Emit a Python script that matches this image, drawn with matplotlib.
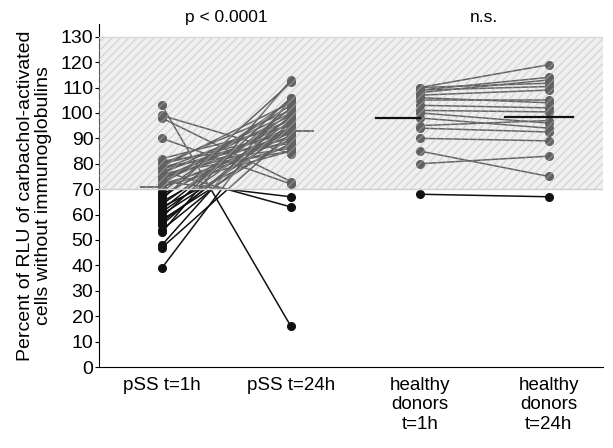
#!/usr/bin/env python3
"""Paired RLU values, pSS patients vs healthy donors, t=1h and t=24h."""
import matplotlib
matplotlib.use("Agg")
import matplotlib.pyplot as plt
from matplotlib.patches import Rectangle

plt.rcParams["font.family"] = ["Liberation Sans", "DejaVu Sans"]

# x categories
groups = ["pSS t=1h", "pSS t=24h", "healthy\ndonors\nt=1h", "healthy\ndonors\nt=24h"]
titles = ["p < 0.0001", "n.s."]

# pSS patients, paired values (t=1h, t=24h)
pss_1h = [103, 99, 98, 90, 77, 73, 39,
          82, 81, 80, 80, 79, 79, 78, 78, 77, 76, 76, 75, 75, 74, 74, 73, 72, 72,
          71, 71, 69, 68, 67, 66, 65, 64, 63, 62, 61, 60, 59, 58, 57, 56, 54, 53,
          48, 47]
pss_24h = [16, 84, 73, 72, 63, 67, 106,
           95, 88, 101, 92, 86, 104, 90, 97, 93, 85, 100, 94, 89, 99, 92, 96, 87, 103,
           91, 85, 105, 93, 98, 112, 94, 100, 88, 102, 97, 93, 106, 90, 96, 99, 95, 113,
           105, 92]

# healthy donors, paired values (t=1h, t=24h)
hd_1h = [110, 110, 109, 109, 108, 107, 106, 105, 103, 101, 100, 98, 95, 94, 90, 85, 80, 68]
hd_24h = [119, 111.7, 114, 110.4, 113, 109, 104, 105, 102, 100.4, 96, 94, 97, 92.5, 89, 75, 83, 67]

# group means
means = [70.7, 92.9, 98.1, 98.4]

# normal range (shaded band)
band = [70, 130]

fig = plt.figure(figsize=(6.13, 4.48), dpi=100)
ax = fig.add_axes([0.1615, 0.1808, 0.822, 0.7656])
ax.set_xlim(0.512, 4.419)
ax.set_ylim(0, 135)

for a, b in zip(pss_1h, pss_24h):
    ax.plot([1, 2], [a, b], color="#111111", lw=1.1, marker="o", ms=5.5, zorder=2)
for a, b in zip(hd_1h, hd_24h):
    ax.plot([3, 4], [a, b], color="#111111", lw=1.1, marker="o", ms=5.5, zorder=2)

# pSS mean markers (sit under the band)
ax.plot([0.84, 1.02], [means[0]] * 2, color="#111111", lw=1.3, zorder=2)
ax.plot([2.0, 2.17], [means[1]] * 2, color="#111111", lw=1.3, zorder=2)

# shaded, hatched band drawn over the data
x0, x1 = ax.get_xlim()
ax.add_patch(Rectangle((x0, band[0]), x1 - x0, band[1] - band[0],
                       facecolor=(0.86, 0.86, 0.86, 0.4), edgecolor="none", lw=0, zorder=3))
ax.add_patch(Rectangle((x0, band[0]), x1 - x0, band[1] - band[0],
                       facecolor="none", edgecolor=(0.72, 0.72, 0.72, 0.45), hatch="////",
                       lw=0, zorder=3))
ax.plot([x0, x1], [band[0]] * 2, color="#d0d0d0", lw=1.0, zorder=3)
ax.plot([x0, x1], [band[1]] * 2, color="#d8d8d8", lw=1.0, zorder=3)

# healthy donor mean markers (on top)
ax.plot([2.66, 3.0], [means[2]] * 2, color="#111111", lw=1.6, zorder=4)
ax.plot([3.66, 4.19], [means[3]] * 2, color="#111111", lw=1.6, zorder=4)

ax.text(1.5, 137.5, titles[0], ha="center", va="center", fontsize=12.5, clip_on=False)
ax.text(3.5, 137.5, titles[1], ha="center", va="center", fontsize=12.5, clip_on=False)

ax.set_yticks(range(0, 131, 10))
ax.set_xticks([1, 2, 3, 4])
ax.set_xticklabels(groups, fontsize=13.5, linespacing=1.2, va="top")
ax.tick_params(axis="y", labelsize=14, length=3, width=0.8, pad=1)
ax.tick_params(axis="x", length=0, pad=7)
ax.spines["top"].set_visible(False)
ax.spines["right"].set_visible(False)
ax.set_ylabel("Percent of RLU of carbachol-activated\ncells without immunoglobulins",
              fontsize=14, labelpad=6, linespacing=1.1)

plt.savefig("out.png", dpi=100)
plt.close()
